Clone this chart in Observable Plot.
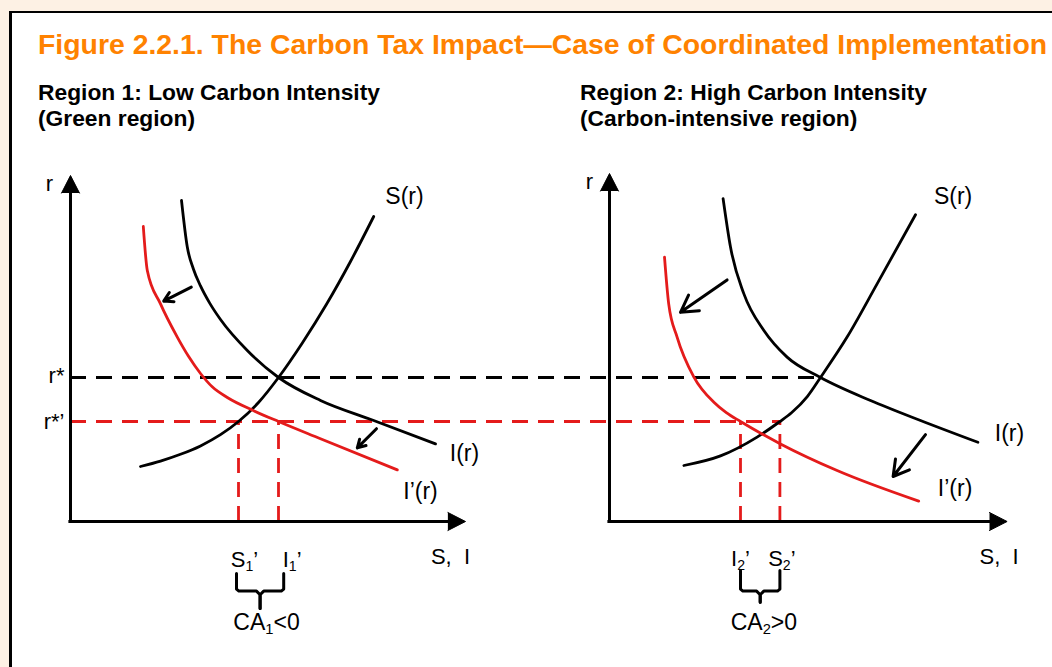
<!DOCTYPE html>
<html><head><meta charset="utf-8">
<script src="https://cdn.jsdelivr.net/npm/d3@7"></script>
<script src="https://cdn.jsdelivr.net/npm/@observablehq/plot@0.6"></script>
<style>
html,body{margin:0;padding:0;width:1052px;height:667px;overflow:hidden;background:#fdf1e4;font-family:"Liberation Sans",Arial,sans-serif;}
#box{position:absolute;left:9px;top:11px;width:1200px;height:800px;background:#fff;border-left:3px solid #000;border-top:2.5px solid #000;}
#title{position:absolute;left:38px;top:30px;font-size:28.4px;line-height:28.4px;font-weight:bold;color:#ff8200;white-space:nowrap;}
.sub{position:absolute;top:79px;font-size:22.8px;line-height:26px;font-weight:bold;color:#000;white-space:nowrap;}
#chart{position:absolute;left:0;top:140px;}
</style></head>
<body>
<div id="box"></div>
<div id="title">Figure 2.2.1. The Carbon Tax Impact—Case of Coordinated Implementation</div>
<div class="sub" style="left:38px">Region 1: Low Carbon Intensity<br>(Green region)</div>
<div class="sub" style="left:580px">Region 2: High Carbon Intensity<br>(Carbon-intensive region)</div>
<div id="chart"></div>
<script>
// ---- data (diagram units: S along x, r along y; each panel has its own origin) ----
const panelOffset = [0, 134.75];          // S-origin of region 1 and region 2 panels
const axisTipR = [86.5, 87];              // top of r axis per panel
const axisTipS = [98.75, 99.4];           // end of S,I axis per panel
const rStar = 36;                         // r*
const rStarPrime = 25;                    // r*'
const region2Equilibrium = 52.75;         // S where r* meets region-2 curves
const region1Drops = [42, 52];            // S1', I1'
const region2Drops = [32.75, 42.6];       // I2', S2'

const region1S  = [[17.5,13.75],[22.5,15.1],[27.5,16.8],[32.5,18.9],[37.5,21.7],[42,25],[47,29.75],[52,36],[58,44.7],[64,54.3],[70,65],[75.8,76.25]];
const region1I  = [[27.75,80.25],[29.2,68.6],[30.7,63.2],[32.5,58.9],[34.8,54.6],[37.5,50.5],[44.2,42.75],[52,36],[62.5,30.25],[75.8,25.25],[91.25,19.4]];
const region1Ip = [[18.2,73.75],[19.2,62.75],[22.5,54.4],[26.7,46.1],[29.5,41.3],[32.5,37],[35.5,33.6],[39.2,31],[45.8,27.7],[52,25],[62.5,20.7],[81.7,12.9]];
const region2S  = [[18.6,14],[27.75,16.4],[36.9,21.1],[42.6,25],[45.5,27.2],[49.5,31.3],[52.75,36],[59.4,46.1],[66.9,59.4],[76.5,76.7]];
const region2I  = [[28.4,80.7],[30.25,68.6],[33.6,56.9],[38.6,47.75],[44.4,41.1],[52.75,36],[65.25,30.25],[77.75,25.25],[92.1,19.8]];
const region2Ip = [[13.75,66.1],[14.8,54.4],[16.9,46.1],[21.1,36.1],[26.1,29.8],[29.2,27.2],[32.75,25],[42.75,19.4],[56.9,12.75],[77.3,5.1]];

const shiftArrows = [
  {panel:0, s1:30.2, r1:58.6, s2:23.3, r2:55.1},
  {panel:0, s1:76.5, r1:23.2, s2:71.7, r2:18.4},
  {panel:1, s1:29.4, r1:60.4, s2:17.75, r2:52.3},
  {panel:1, s1:79,   r1:21.7, s2:70.9, r2:11.25}
];
const curveLabels = [
  {panel:0, text:"S(r)",  s:83.5,  r:81.25},
  {panel:0, text:"I(r)",  s:98.5,  r:17},
  {panel:0, text:"I’(r)", s:87.5,  r:7.5},
  {panel:1, text:"S(r)",  s:85.9,  r:81.25},
  {panel:1, text:"I(r)",  s:100,   r:22},
  {panel:1, text:"I’(r)", s:86.4,  r:8.25}
];
const axisLabels = [
  {panel:0, text:"S,\u00a0 I", s:95,   r:-8.75},
  {panel:1, text:"S,\u00a0 I", s:97.4, r:-8.75},
  {panel:0, text:"r", s:-5.25, r:84.5},
  {panel:1, text:"r", s:-5,    r:85}
];
const rateLabels = [{text:"r*", r:36.5}, {text:"r*’", r:25}];
const pointLabels = [
  {panel:0, text:"S₁’", s:43.5,  r:-9.5},
  {panel:0, text:"I₁’", s:55.4,  r:-9.5},
  {panel:1, text:"I₂’", s:32.75, r:-9.25},
  {panel:1, text:"S₂’", s:43.1,  r:-9.25}
];
const balanceLabels = [
  {panel:0, text:"CA₁<0", s:49,   r:-25.25},
  {panel:1, text:"CA₂>0", s:38.6, r:-25.25}
];
const braces = [
  {panel:0, s0:41.5,  s1:53.3, top:-13,    bottom:-17.4, stem:-21.75},
  {panel:1, s0:32.75, s1:42.6, top:-12.25, bottom:-17.4, stem:-20.2}
];

// ---- build ----
const RED = "#e41b1b";
const X = (p, s) => s + panelOffset[p];
const toPts = (arr, p, id) => arr.map(([s, r]) => ({x: X(p, s), r, id}));

const curveBlack = [...toPts(region1S,0,"s1"), ...toPts(region1I,0,"i1"), ...toPts(region2S,1,"s2"), ...toPts(region2I,1,"i2")];
const curveRed = [...toPts(region1Ip,0,"ip1"), ...toPts(region2Ip,1,"ip2")];

const axes = panelOffset.map((o, i) => ({o, tipR: axisTipR[i], tipS: X(i, axisTipS[i])}));
const heads = [];
axes.forEach((a, i) => {
  heads.push({x:a.o-2.25, r:a.tipR-4.4, id:"y"+i}, {x:a.o, r:a.tipR, id:"y"+i}, {x:a.o+2.25, r:a.tipR-4.4, id:"y"+i});
  heads.push({x:a.tipS-4.4, r:-2.25, id:"x"+i}, {x:a.tipS, r:0, id:"x"+i}, {x:a.tipS-4.4, r:2.25, id:"x"+i});
});
const drops = [...region1Drops.map(s => X(0, s)), ...region2Drops.map(s => X(1, s))];

const bracePts = [];
braces.forEach((b, i) => {
  const a = X(b.panel, b.s0), c = X(b.panel, b.s1), m = (a + c) / 2;
  [[a, 1], [c, -1]].forEach(([e, dir], k) => {
    const id = "b" + i + k;
    bracePts.push({x:e, r:b.top, id}, {x:e, r:b.bottom+0.5, id}, {x:e+dir*0.6, r:b.bottom, id},
                  {x:m-dir*0.9, r:b.bottom, id}, {x:m, r:b.bottom-0.9, id}, {x:m, r:b.stem, id});
  });
});

const place = arr => arr.map(d => ({...d, x: X(d.panel, d.s)}));
const FS = 23;

const chart = Plot.plot({
  width: 1052, height: 527,
  marginTop: 0, marginRight: 0, marginBottom: 0, marginLeft: 0,
  x: {domain: [-17.5, 245.5], axis: null},
  y: {domain: [-36.5, 95.25], axis: null},
  style: {background: "transparent", fontFamily: "'Liberation Sans', Arial, sans-serif", overflow: "visible"},
  marks: [
    Plot.ruleY([rStar], {y: d => d, x1: () => 0, x2: () => X(1, region2Equilibrium), stroke: "black", strokeWidth: 2.8, strokeDasharray: "16,10"}),
    Plot.ruleY([rStarPrime], {y: d => d, x1: () => 0, x2: () => X(1, region2Drops[1]), stroke: RED, strokeWidth: 2.8, strokeDasharray: "16,10"}),
    Plot.ruleX(drops, {x: d => d, y1: () => 0, y2: () => rStarPrime, stroke: RED, strokeWidth: 2.8, strokeDasharray: "15,9"}),
    Plot.ruleX(axes, {x: "o", y1: () => -0.4, y2: d => d.tipR - 2, stroke: "black", strokeWidth: 3}),
    Plot.ruleY(axes, {y: () => 0, x1: d => d.o - 0.4, x2: d => d.tipS - 2, stroke: "black", strokeWidth: 3}),
    Plot.line(heads, {x: "x", y: "r", z: "id", fill: "black", stroke: "black", strokeWidth: 1}),
    Plot.line(curveBlack, {x: "x", y: "r", z: "id", stroke: "black", strokeWidth: 2.8, curve: "monotone-x"}),
    Plot.line(curveRed, {x: "x", y: "r", z: "id", stroke: RED, strokeWidth: 2.8, curve: "monotone-x"}),
    Plot.arrow(shiftArrows, {
      x1: d => X(d.panel, d.s1), y1: "r1", x2: d => X(d.panel, d.s2), y2: "r2",
      stroke: "black", strokeWidth: 3, headLength: 13, headAngle: 60
    }),
    Plot.line(bracePts, {x: "x", y: "r", z: "id", stroke: "black", strokeWidth: 3, strokeLinejoin: "round"}),
    Plot.text(place(curveLabels), {x: "x", y: "r", text: "text", fontSize: FS, fill: "black"}),
    Plot.text(place(axisLabels), {x: "x", y: "r", text: "text", fontSize: 22, fill: "black"}),
    Plot.text(rateLabels, {x: () => -1.5, y: "r", text: "text", fontSize: 22, fill: "black", textAnchor: "end"}),
    Plot.text(place(pointLabels), {x: "x", y: "r", text: "text", fontSize: 22, fill: "black"}),
    Plot.text(place(balanceLabels), {x: "x", y: "r", text: "text", fontSize: FS, fill: "black"})
  ]
});

// render subscript digits as lowered small tspans
const NS = "http://www.w3.org/2000/svg";
chart.querySelectorAll("text").forEach(t => {
  const s = t.textContent;
  if (!/[₁₂]/.test(s)) return;
  while (t.firstChild) t.removeChild(t.firstChild);
  let lowered = false;
  s.split(/([₁₂])/).forEach(p => {
    if (!p) return;
    const ts = document.createElementNS(NS, "tspan");
    if (p === "₁" || p === "₂") {
      ts.textContent = p === "₁" ? "1" : "2";
      ts.setAttribute("font-size", "0.64em");
      ts.setAttribute("dy", "4");
      lowered = true;
    } else {
      ts.textContent = p;
      if (lowered) { ts.setAttribute("dy", "-4"); lowered = false; }
    }
    t.appendChild(ts);
  });
});

document.getElementById("chart").appendChild(chart);
</script>
</body></html>
